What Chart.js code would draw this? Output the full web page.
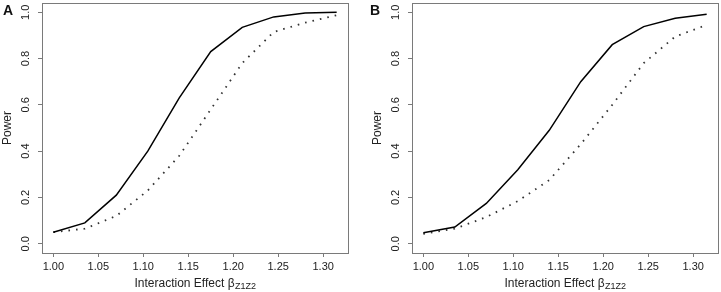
<!DOCTYPE html>
<html>
<head>
<meta charset="utf-8">
<script src="https://cdn.jsdelivr.net/npm/chart.js@4.4.1/dist/chart.umd.min.js"></script>
<style>
  html, body { margin: 0; padding: 0; background: #fff; }
  #wrap { position: relative; width: 721px; height: 292px; overflow: hidden; }
  canvas { position: absolute; top: 0; }
</style>
</head>
<body>
<div id="wrap">
  <canvas id="cA" width="360" height="292" style="left:0;width:360px;height:292px"></canvas>
  <canvas id="cB" width="361" height="292" style="left:360px;width:361px;height:292px"></canvas>
</div>
<script>
// ---- data ----
const effectSizes = [1.000, 1.035, 1.070, 1.105, 1.140, 1.175, 1.210, 1.245, 1.280, 1.315];
const powerA_solid  = [0.050, 0.090, 0.210, 0.400, 0.630, 0.830, 0.935, 0.980, 0.997, 1.000];
const powerA_dotted = [0.050, 0.065, 0.120, 0.230, 0.380, 0.580, 0.780, 0.915, 0.955, 0.987];
const powerB_solid  = [0.047, 0.072, 0.174, 0.320, 0.490, 0.700, 0.860, 0.938, 0.974, 0.991];
const powerB_dotted = [0.043, 0.065, 0.115, 0.184, 0.275, 0.430, 0.600, 0.780, 0.895, 0.945];
const xTickValues = [1.00, 1.05, 1.10, 1.15, 1.20, 1.25, 1.30];
const yTickValues = [0.0, 0.2, 0.4, 0.6, 0.8, 1.0];
const panelLetters = ['A', 'B'];
const xTitleMain = 'Interaction Effect β';
const xTitleSub = 'Z1Z2';
const yTitle = 'Power';

const FONT = "'Liberation Sans', Arial, Helvetica, sans-serif";
const BOX = '#7a7a7a';

function pts(series) { return effectSizes.map((x, i) => ({ x: x, y: series[i] })); }

const decorPlugin = {
  id: 'decor',
  afterDraw(chart, args, opts) {
    const ctx = chart.ctx, a = chart.chartArea;
    ctx.save();
    // box
    ctx.strokeStyle = BOX;
    ctx.lineWidth = 1;
    ctx.strokeRect(Math.round(a.left) + 0.5, Math.round(a.top) + 0.5,
                   Math.round(a.right - a.left), Math.round(a.bottom - a.top));
    // x title with subscript
    ctx.fillStyle = '#222';
    ctx.textBaseline = 'alphabetic';
    ctx.font = '12px ' + FONT;
    const w1 = ctx.measureText(xTitleMain).width;
    ctx.font = '9px ' + FONT;
    const w2 = ctx.measureText(xTitleSub).width;
    const cx = (a.left + a.right) / 2;
    let sx = cx - (w1 + w2) / 2;
    ctx.font = '12px ' + FONT;
    ctx.textAlign = 'left';
    ctx.fillText(xTitleMain, sx, 286.5);
    ctx.font = '9px ' + FONT;
    ctx.fillText(xTitleSub, sx + w1 + 0.5, 289);
    // y title
    ctx.save();
    ctx.translate(a.left - 34.5, (a.top + a.bottom) / 2);
    ctx.rotate(-Math.PI / 2);
    ctx.font = '12px ' + FONT;
    ctx.textAlign = 'center';
    ctx.textBaseline = 'middle';
    ctx.fillText(yTitle, 0, 0);
    ctx.restore();
    // panel letter
    ctx.font = 'bold 14px ' + FONT;
    ctx.fillStyle = '#111';
    ctx.textAlign = 'left';
    ctx.textBaseline = 'alphabetic';
    ctx.fillText(opts.letter, opts.letterX, 15);
    ctx.restore();
  }
};

function zeroPad(s) { s.paddingLeft = 0; s.paddingRight = 0; s.paddingTop = 0; s.paddingBottom = 0; }

function makeChart(id, solid, dotted, leftW, rightPad, letter, letterX) {
  return new Chart(document.getElementById(id), {
    type: 'line',
    data: {
      datasets: [
        { data: pts(solid), borderColor: '#000', borderWidth: 1.5, pointRadius: 0, tension: 0, fill: false },
        { data: pts(dotted), borderColor: '#333', borderWidth: 1.8, borderDash: [1.6, 6], borderCapStyle: 'butt',
          pointRadius: 0, tension: 0, fill: false }
      ]
    },
    options: {
      responsive: false,
      animation: false,
      devicePixelRatio: 1,
      events: [],
      layout: { padding: { left: 0, right: rightPad, top: 3, bottom: 0 } },
      plugins: { legend: { display: false }, tooltip: { enabled: false }, title: { display: false },
                 decor: { letter: letter, letterX: letterX } },
      scales: {
        x: {
          type: 'linear',
          min: 1 - 0.04 * 0.315,
          max: 1.315 + 0.04 * 0.315,
          afterBuildTicks: s => { s.ticks = xTickValues.map(v => ({ value: v })); },
          afterFit: s => { s.height = 39; zeroPad(s); },
          border: { display: false },
          grid: { display: true, drawOnChartArea: false, drawTicks: true, tickLength: 4, color: BOX, lineWidth: 1 },
          ticks: { autoSkip: false, maxRotation: 0, minRotation: 0, padding: 3, color: '#222',
                   font: { family: FONT, size: 11 }, callback: v => Number(v).toFixed(2) }
        },
        y: {
          type: 'linear',
          min: -0.04,
          max: 1.04,
          afterBuildTicks: s => { s.ticks = yTickValues.map(v => ({ value: v })); },
          afterFit: s => { s.width = leftW; zeroPad(s); },
          border: { display: false },
          grid: { display: true, drawOnChartArea: false, drawTicks: true, tickLength: 4, color: BOX, lineWidth: 1 },
          ticks: { autoSkip: false, minRotation: 90, maxRotation: 90, crossAlign: 'center', padding: 4, color: '#222',
                   font: { family: FONT, size: 11 }, callback: v => Number(v).toFixed(1) }
        }
      }
    },
    plugins: [decorPlugin]
  });
}

makeChart('cA', powerA_solid, powerA_dotted, 42, 12, panelLetters[0], 3);
makeChart('cB', powerB_solid, powerB_dotted, 52, 3, panelLetters[1], 10);
</script>
</body>
</html>
